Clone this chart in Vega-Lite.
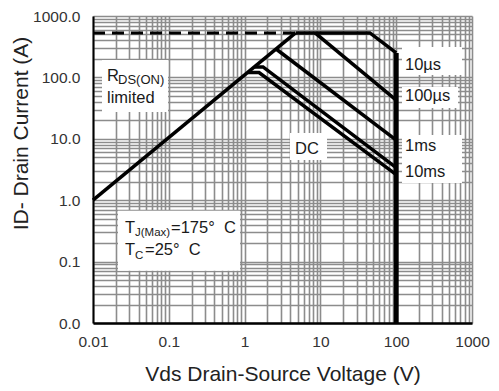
{
  "$schema": "https://vega.github.io/schema/vega-lite/v6.json",
  "width": 379,
  "height": 307,
  "autosize": {"type": "none"},
  "padding": {"left": 93, "top": 16, "right": 27, "bottom": 68},
  "background": "white",
  "config": {"view": {"stroke": null}, "font": "Liberation Sans"},
  "datasets": {
    "lines": [
      {"s": "rds", "o": 1, "v": 0.01, "i": 1},
      {"s": "rds", "o": 2, "v": 4.7, "i": 530},
      {"s": "dash", "o": 1, "v": 0.01, "i": 530},
      {"s": "dash", "o": 2, "v": 4.7, "i": 530},
      {"s": "10us", "o": 1, "v": 4.7, "i": 530},
      {"s": "10us", "o": 2, "v": 45, "i": 530},
      {"s": "10us", "o": 3, "v": 100, "i": 250},
      {"s": "vmax", "o": 1, "v": 100, "i": 250},
      {"s": "vmax", "o": 2, "v": 100, "i": 0.01},
      {"s": "100us", "o": 1, "v": 8.5, "i": 530},
      {"s": "100us", "o": 2, "v": 100, "i": 42.5},
      {"s": "1ms", "o": 1, "v": 2.6, "i": 290},
      {"s": "1ms", "o": 2, "v": 100, "i": 9.5},
      {"s": "10ms", "o": 1, "v": 1.35, "i": 148},
      {"s": "10ms", "o": 2, "v": 1.75, "i": 148},
      {"s": "10ms", "o": 3, "v": 100, "i": 3.4},
      {"s": "dc", "o": 1, "v": 1.1, "i": 120},
      {"s": "dc", "o": 2, "v": 1.55, "i": 120},
      {"s": "dc", "o": 3, "v": 100, "i": 2.6}
    ],
    "boxes": [
      {"v": 0.01315, "v2": 0.09759, "i": 192, "i2": 27.3},
      {"v": 0.02137, "v2": 0.8696, "i": 0.6745, "i2": 0.0711},
      {"v": 3.972, "v2": 12.22, "i": 12.43, "i2": 4.515},
      {"v": 119.2, "v2": 738, "i": 312.7, "i2": 109.4},
      {"v": 119.2, "v2": 653.6, "i": 69.8, "i2": 31.7},
      {"v": 119.2, "v2": 738, "i": 11.53, "i2": 1.906}
    ],
    "texts": [
      {"t": "R", "r": "main", "v": 0.0153, "i": 87.4},
      {"t": "DS(ON)", "r": "subL", "v": 0.02137, "i": 78.1},
      {"t": "limited", "r": "main", "v": 0.0153, "i": 38.3},
      {"t": "T", "r": "main", "v": 0.02644, "i": 0.2922},
      {"t": "J(Max)", "r": "sub", "v": 0.03581, "i": 0.2661},
      {"t": "=175°\u00a0 C", "r": "main", "v": 0.1069, "i": 0.2922},
      {"t": "T", "r": "main", "v": 0.02644, "i": 0.1281},
      {"t": "C", "r": "sub", "v": 0.03581, "i": 0.1102},
      {"t": "=25°\u00a0 C", "r": "main", "v": 0.04853, "i": 0.1281},
      {"t": "DC", "r": "main", "v": 4.624, "i": 5.655},
      {"t": "10µs", "r": "main", "v": 130.6, "i": 132},
      {"t": "100µs", "r": "main", "v": 130.6, "i": 41.3},
      {"t": "1ms", "r": "main", "v": 130.6, "i": 6.4},
      {"t": "10ms", "r": "main", "v": 130.6, "i": 2.36}
    ]
  },
  "encoding": {
    "x": {
      "field": "v",
      "type": "quantitative",
      "scale": {"type": "log", "domain": [0.01, 1000]},
      "axis": {
        "title": "Vds Drain-Source Voltage (V)",
        "values": [0.01, 0.02, 0.03, 0.04, 0.05, 0.06, 0.07, 0.08, 0.09, 0.1, 0.2, 0.3, 0.4, 0.5, 0.6, 0.7, 0.8, 0.9, 1, 2, 3, 4, 5, 6, 7, 8, 9, 10, 20, 30, 40, 50, 60, 70, 80, 90, 100, 200, 300, 400, 500, 600, 700, 800, 900, 1000],
        "format": "~g",
        "labelExpr": "indexof([0.01,0.1,1,10,100,1000], datum.value) >= 0 ? datum.label : ''",
        "grid": true,
        "gridColor": "#8c8c8c",
        "gridWidth": 1.6,
        "ticks": false,
        "domainColor": "#000000",
        "domainWidth": 2.5,
        "labelFont": "Liberation Sans",
        "labelFontSize": 15.5,
        "labelColor": "#333333",
        "labelPadding": 11,
        "labelFlush": false,
        "labelOverlap": false,
        "labelBound": false,
        "titleFont": "Liberation Sans",
        "titleFontSize": 21,
        "titleFontWeight": "normal",
        "titleColor": "#222222",
        "titlePadding": 14
      }
    },
    "y": {
      "field": "i",
      "type": "quantitative",
      "scale": {"type": "log", "domain": [0.01, 1000]},
      "axis": {
        "title": "ID- Drain Current (A)",
        "values": [0.01, 0.02, 0.03, 0.04, 0.05, 0.06, 0.07, 0.08, 0.09, 0.1, 0.2, 0.3, 0.4, 0.5, 0.6, 0.7, 0.8, 0.9, 1, 2, 3, 4, 5, 6, 7, 8, 9, 10, 20, 30, 40, 50, 60, 70, 80, 90, 100, 200, 300, 400, 500, 600, 700, 800, 900, 1000],
        "format": ".1f",
        "labelExpr": "indexof([0.01,0.1,1,10,100,1000], datum.value) >= 0 ? datum.label : ''",
        "grid": true,
        "gridColor": "#8c8c8c",
        "gridWidth": 1.6,
        "ticks": false,
        "domainColor": "#000000",
        "domainWidth": 2,
        "labelFont": "Liberation Sans",
        "labelFontSize": 15.5,
        "labelColor": "#333333",
        "labelPadding": 13,
        "labelFlush": false,
        "labelOverlap": false,
        "labelBound": false,
        "titleFont": "Liberation Sans",
        "titleFontSize": 21,
        "titleFontWeight": "normal",
        "titleColor": "#222222",
        "titleAngle": -90,
        "titleAlign": "center",
        "titleBaseline": "alphabetic",
        "titleX": -66,
        "titleY": 117
      }
    }
  },
  "layer": [
    {
      "data": {"name": "boxes"},
      "mark": {"type": "rect", "fill": "white", "strokeWidth": 0},
      "encoding": {"x2": {"field": "v2"}, "y2": {"field": "i2"}}
    },
    {
      "data": {"name": "lines"},
      "transform": [{"filter": "datum.s === 'dash'"}],
      "mark": {"type": "line", "color": "black", "strokeWidth": 3, "strokeDash": [12, 7]},
      "encoding": {"order": {"field": "o"}}
    },
    {
      "data": {"name": "lines"},
      "transform": [{"filter": "datum.s !== 'dash' && datum.s !== 'vmax'"}],
      "mark": {"type": "line", "color": "black", "strokeWidth": 3.5},
      "encoding": {"detail": {"field": "s"}, "order": {"field": "o"}}
    },
    {
      "data": {"name": "lines"},
      "transform": [{"filter": "datum.s === 'vmax'"}],
      "mark": {"type": "line", "color": "black", "strokeWidth": 5},
      "encoding": {"order": {"field": "o"}}
    },
    {
      "data": {"name": "texts"},
      "transform": [{"filter": "datum.r === 'main'"}],
      "mark": {"type": "text", "align": "left", "baseline": "alphabetic", "fontSize": 16.5, "color": "#1a1a1a", "font": "Liberation Sans"},
      "encoding": {"text": {"field": "t"}}
    },
    {
      "data": {"name": "texts"},
      "transform": [{"filter": "datum.r === 'sub'"}],
      "mark": {"type": "text", "align": "left", "baseline": "alphabetic", "fontSize": 11.5, "color": "#1a1a1a", "font": "Liberation Sans"},
      "encoding": {"text": {"field": "t"}}
    },
    {
      "data": {"name": "texts"},
      "transform": [{"filter": "datum.r === 'subL'"}],
      "mark": {"type": "text", "align": "left", "baseline": "alphabetic", "fontSize": 13, "color": "#1a1a1a", "font": "Liberation Sans"},
      "encoding": {"text": {"field": "t"}}
    }
  ]
}
